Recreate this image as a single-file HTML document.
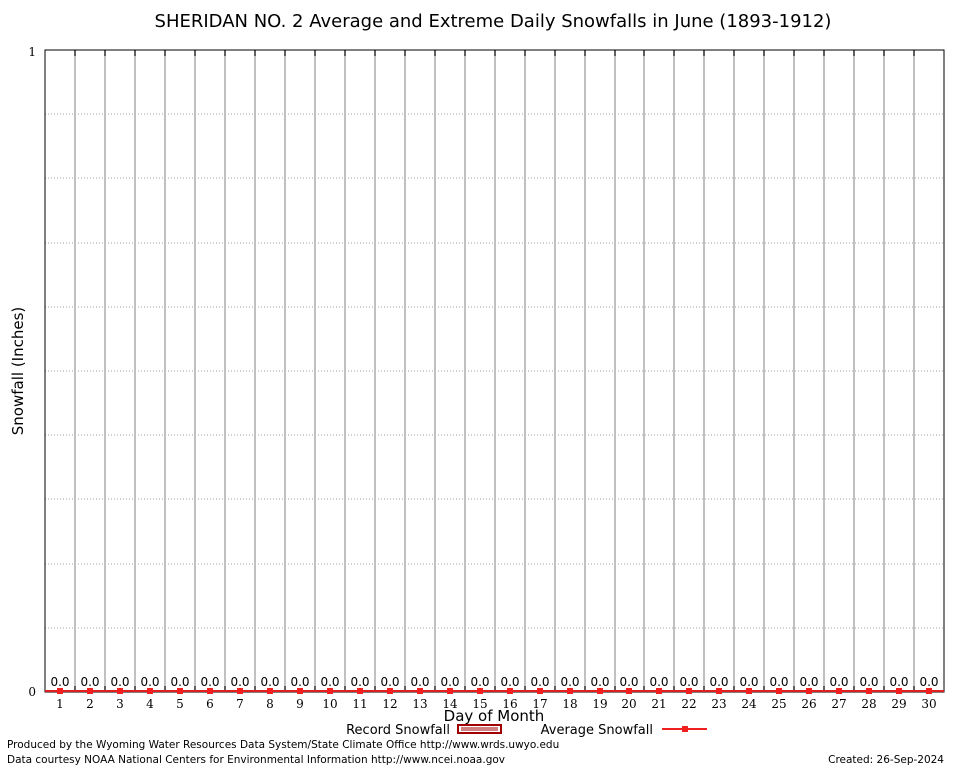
<!DOCTYPE html>
<html><head><meta charset="utf-8"><style>
body{margin:0;background:#fff}
svg{display:block}
.s{font-family:"DejaVu Sans","Liberation Sans",sans-serif}
.t{font-family:"DejaVu Serif","Liberation Serif",serif}
</style></head><body>
<svg width="954" height="768" viewBox="0 0 954 768" xmlns="http://www.w3.org/2000/svg">
<rect width="954" height="768" fill="#fff"/>
<text class="s" x="493" y="27" font-size="18" text-anchor="middle">SHERIDAN NO. 2 Average and Extreme Daily Snowfalls in June (1893-1912)</text>
<g stroke="#a0a0a0" stroke-width="1" stroke-dasharray="1,2">
<line x1="45" x2="944" y1="114" y2="114"/><line x1="45" x2="944" y1="178" y2="178"/><line x1="45" x2="944" y1="243" y2="243"/><line x1="45" x2="944" y1="307" y2="307"/><line x1="45" x2="944" y1="371" y2="371"/><line x1="45" x2="944" y1="435" y2="435"/><line x1="45" x2="944" y1="499" y2="499"/><line x1="45" x2="944" y1="564" y2="564"/><line x1="45" x2="944" y1="628" y2="628"/>
</g>
<g stroke="#c0c0c0" stroke-width="2">
<line x1="75" x2="75" y1="50" y2="692"/><line x1="105" x2="105" y1="50" y2="692"/><line x1="135" x2="135" y1="50" y2="692"/><line x1="165" x2="165" y1="50" y2="692"/><line x1="195" x2="195" y1="50" y2="692"/><line x1="225" x2="225" y1="50" y2="692"/><line x1="255" x2="255" y1="50" y2="692"/><line x1="285" x2="285" y1="50" y2="692"/><line x1="315" x2="315" y1="50" y2="692"/><line x1="345" x2="345" y1="50" y2="692"/><line x1="375" x2="375" y1="50" y2="692"/><line x1="405" x2="405" y1="50" y2="692"/><line x1="435" x2="435" y1="50" y2="692"/><line x1="465" x2="465" y1="50" y2="692"/><line x1="495" x2="495" y1="50" y2="692"/><line x1="525" x2="525" y1="50" y2="692"/><line x1="555" x2="555" y1="50" y2="692"/><line x1="585" x2="585" y1="50" y2="692"/><line x1="615" x2="615" y1="50" y2="692"/><line x1="644" x2="644" y1="50" y2="692"/><line x1="674" x2="674" y1="50" y2="692"/><line x1="704" x2="704" y1="50" y2="692"/><line x1="734" x2="734" y1="50" y2="692"/><line x1="764" x2="764" y1="50" y2="692"/><line x1="794" x2="794" y1="50" y2="692"/><line x1="824" x2="824" y1="50" y2="692"/><line x1="854" x2="854" y1="50" y2="692"/><line x1="884" x2="884" y1="50" y2="692"/><line x1="914" x2="914" y1="50" y2="692"/>
</g>
<g stroke="#000" stroke-width="1">
<path d="M75 50v6M105 50v6M135 50v6M165 50v6M195 50v6M225 50v6M255 50v6M285 50v6M315 50v6M345 50v6M375 50v6M405 50v6M435 50v6M465 50v6M495 50v6M525 50v6M555 50v6M585 50v6M615 50v6M644 50v6M674 50v6M704 50v6M734 50v6M764 50v6M794 50v6M824 50v6M854 50v6M884 50v6M914 50v6"/>
<path d="M75 692v-6M105 692v-6M135 692v-6M165 692v-6M195 692v-6M225 692v-6M255 692v-6M285 692v-6M315 692v-6M345 692v-6M375 692v-6M405 692v-6M435 692v-6M465 692v-6M495 692v-6M525 692v-6M555 692v-6M585 692v-6M615 692v-6M644 692v-6M674 692v-6M704 692v-6M734 692v-6M764 692v-6M794 692v-6M824 692v-6M854 692v-6M884 692v-6M914 692v-6"/>
</g>
<rect x="45" y="50" width="899" height="642" fill="none" stroke="#000" stroke-width="1"/>
<line x1="45" x2="944" y1="691" y2="691" stroke="#e02020" stroke-width="2"/>
<g fill="#f02020">
<rect x="57" y="688" width="6" height="6"/><rect x="87" y="688" width="6" height="6"/><rect x="117" y="688" width="6" height="6"/><rect x="147" y="688" width="6" height="6"/><rect x="177" y="688" width="6" height="6"/><rect x="207" y="688" width="6" height="6"/><rect x="237" y="688" width="6" height="6"/><rect x="267" y="688" width="6" height="6"/><rect x="297" y="688" width="6" height="6"/><rect x="327" y="688" width="6" height="6"/><rect x="357" y="688" width="6" height="6"/><rect x="387" y="688" width="6" height="6"/><rect x="417" y="688" width="6" height="6"/><rect x="447" y="688" width="6" height="6"/><rect x="477" y="688" width="6" height="6"/><rect x="507" y="688" width="6" height="6"/><rect x="537" y="688" width="6" height="6"/><rect x="567" y="688" width="6" height="6"/><rect x="597" y="688" width="6" height="6"/><rect x="626" y="688" width="6" height="6"/><rect x="656" y="688" width="6" height="6"/><rect x="686" y="688" width="6" height="6"/><rect x="716" y="688" width="6" height="6"/><rect x="746" y="688" width="6" height="6"/><rect x="776" y="688" width="6" height="6"/><rect x="806" y="688" width="6" height="6"/><rect x="836" y="688" width="6" height="6"/><rect x="866" y="688" width="6" height="6"/><rect x="896" y="688" width="6" height="6"/><rect x="926" y="688" width="6" height="6"/>
</g>
<g class="s" font-size="12" text-anchor="middle">
<text x="60" y="686">0.0</text><text x="90" y="686">0.0</text><text x="120" y="686">0.0</text><text x="150" y="686">0.0</text><text x="180" y="686">0.0</text><text x="210" y="686">0.0</text><text x="240" y="686">0.0</text><text x="270" y="686">0.0</text><text x="300" y="686">0.0</text><text x="330" y="686">0.0</text><text x="360" y="686">0.0</text><text x="390" y="686">0.0</text><text x="420" y="686">0.0</text><text x="450" y="686">0.0</text><text x="480" y="686">0.0</text><text x="510" y="686">0.0</text><text x="540" y="686">0.0</text><text x="570" y="686">0.0</text><text x="600" y="686">0.0</text><text x="629" y="686">0.0</text><text x="659" y="686">0.0</text><text x="689" y="686">0.0</text><text x="719" y="686">0.0</text><text x="749" y="686">0.0</text><text x="779" y="686">0.0</text><text x="809" y="686">0.0</text><text x="839" y="686">0.0</text><text x="869" y="686">0.0</text><text x="899" y="686">0.0</text><text x="929" y="686">0.0</text>
</g>
<g class="t" font-size="12" text-anchor="middle">
<text x="60" y="708">1</text><text x="90" y="708">2</text><text x="120" y="708">3</text><text x="150" y="708">4</text><text x="180" y="708">5</text><text x="210" y="708">6</text><text x="240" y="708">7</text><text x="270" y="708">8</text><text x="300" y="708">9</text><text x="330" y="708">10</text><text x="360" y="708">11</text><text x="390" y="708">12</text><text x="420" y="708">13</text><text x="450" y="708">14</text><text x="480" y="708">15</text><text x="510" y="708">16</text><text x="540" y="708">17</text><text x="570" y="708">18</text><text x="600" y="708">19</text><text x="629" y="708">20</text><text x="659" y="708">21</text><text x="689" y="708">22</text><text x="719" y="708">23</text><text x="749" y="708">24</text><text x="779" y="708">25</text><text x="809" y="708">26</text><text x="839" y="708">27</text><text x="869" y="708">28</text><text x="899" y="708">29</text><text x="929" y="708">30</text>
<text x="36" y="56" text-anchor="end">1</text><text x="36" y="696" text-anchor="end">0</text>
</g>
<text class="s" x="494" y="721" font-size="15" text-anchor="middle">Day of Month</text>
<text class="s" x="23" y="371" font-size="15" text-anchor="middle" transform="rotate(-90 23 371)">Snowfall (Inches)</text>
<text class="s" x="450" y="734" font-size="13" text-anchor="end">Record Snowfall</text>
<rect x="458" y="725" width="43" height="8" fill="#fff" stroke="#a00000" stroke-width="2"/>
<rect x="461" y="727" width="37" height="4" fill="#d08080"/>
<text class="s" x="653" y="734" font-size="13" text-anchor="end">Average Snowfall</text>
<line x1="662" x2="707" y1="729" y2="729" stroke="#f02020" stroke-width="2"/>
<rect x="682" y="726" width="6" height="6" fill="#f02020"/>
<text class="s" x="7" y="748" font-size="10.5">Produced by the Wyoming Water Resources Data System/State Climate Office http://www.wrds.uwyo.edu</text>
<text class="s" x="7" y="763" font-size="10.5">Data courtesy NOAA National Centers for Environmental Information http://www.ncei.noaa.gov</text>
<text class="s" x="944" y="763" font-size="10.5" text-anchor="end">Created:  26-Sep-2024</text>
</svg>
</body></html>
